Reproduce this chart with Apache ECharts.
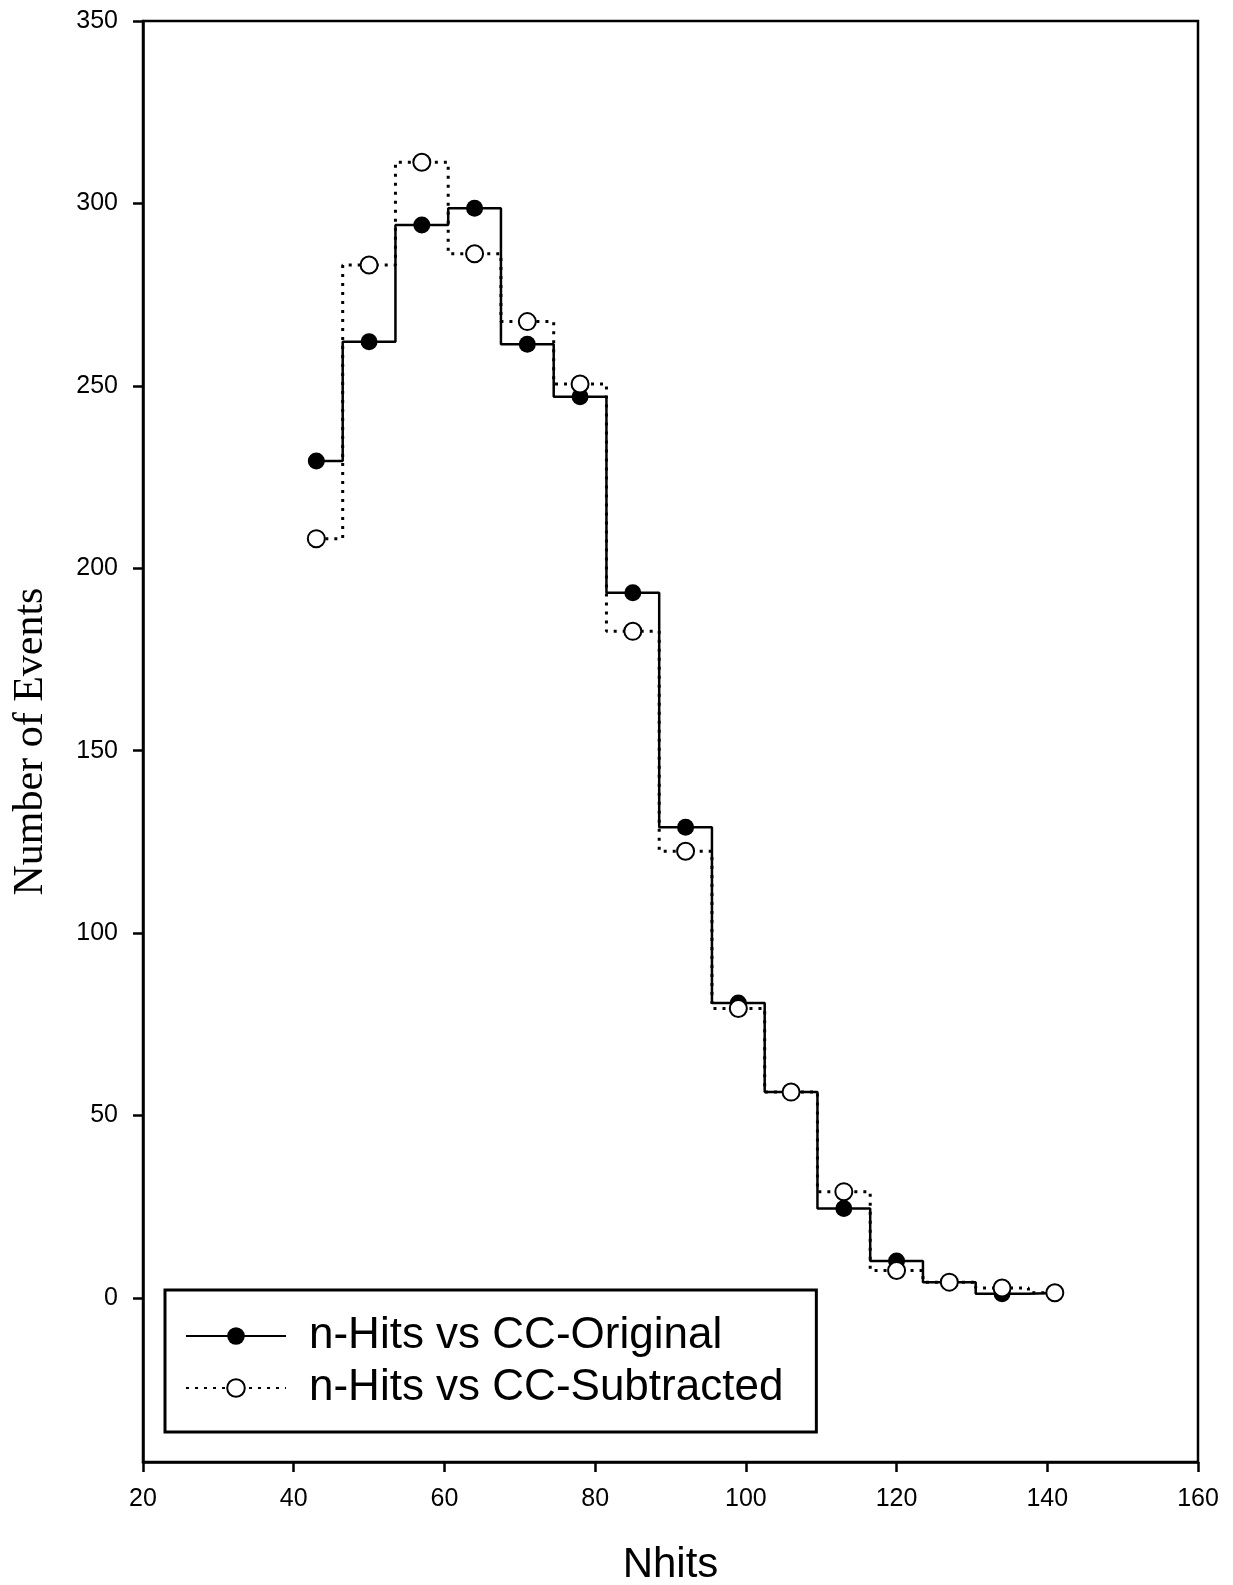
<!DOCTYPE html>
<html>
<head>
<meta charset="utf-8">
<script src="https://cdn.jsdelivr.net/npm/echarts@6/dist/echarts.min.js"></script>
<style>
html,body{margin:0;padding:0;background:#fff;}
#chart{width:1233px;height:1585px;}
</style>
</head>
<body>
<div id="chart"></div>
<script>
// Data
var nhits = [43, 50, 57, 64, 71, 78, 85, 92, 99, 106, 113, 120, 127, 134, 141];
var ccOriginal = [229.4, 262.1, 294.1, 298.7, 261.4, 247, 193.3, 129, 80.8, 56.4, 24.5, 10.1, 4.3, 1.1, 1.3];
var ccSubtracted = [208.1, 283.1, 311.3, 286.2, 267.6, 250.5, 182.7, 122.4, 79.3, 56.4, 29.1, 7.5, 4.3, 2.7, 1.4];
var yTicks = [0, 50, 100, 150, 200, 250, 300, 350];
var seriesNames = ['n-Hits vs CC-Original', 'n-Hits vs CC-Subtracted'];

function pairs(xs, ys) { return xs.map(function (x, i) { return [x, ys[i]]; }); }

var chart = echarts.init(document.getElementById('chart'), null, {renderer: 'canvas'});
var labelFont = {fontFamily: 'Liberation Sans', fontSize: 25, color: '#000'};
chart.setOption({
  animation: false,
  backgroundColor: '#fff',
  grid: {left: 143, right: 35, top: 21, bottom: 123, outerBoundsMode: 'none', containLabel: false,
         show: true, borderColor: '#000', borderWidth: 2.5, backgroundColor: 'transparent'},
  xAxis: {
    type: 'value', min: 20, max: 160, interval: 20,
    name: 'Nhits', nameLocation: 'middle', nameGap: 82,
    nameTextStyle: {fontFamily: 'Liberation Sans', fontSize: 42, color: '#000'},
    axisLine: {show: true, onZero: false, lineStyle: {color: '#000', width: 2.5}},
    axisTick: {show: true, length: 10, lineStyle: {color: '#000', width: 2.5}},
    axisLabel: Object.assign({margin: 25}, labelFont),
    splitLine: {show: false}
  },
  yAxis: {
    type: 'value', min: -45, max: 350,
    name: 'Number of Events', nameLocation: 'middle', nameGap: 91, nameRotate: 90,
    nameTextStyle: {fontFamily: 'Liberation Serif', fontSize: 42, color: '#000'},
    axisLine: {show: true, onZero: false, lineStyle: {color: '#000', width: 2.5}},
    axisTick: {show: true, length: 10, customValues: yTicks, lineStyle: {color: '#000', width: 2.5}},
    axisLabel: Object.assign({margin: 25, customValues: yTicks}, labelFont),
    splitLine: {show: false}
  },
  legend: {
    orient: 'vertical', left: 165, top: 1290,
    itemWidth: 100, itemHeight: 22, itemGap: 8,
    borderColor: '#000', borderWidth: 3, padding: [24, 33, 22, 20],
    backgroundColor: '#fff',
    textStyle: {fontFamily: 'Liberation Sans', fontSize: 44, lineHeight: 44, color: '#000', padding: [0, 0, 0, 18]},
    data: seriesNames
  },
  series: [
    {
      name: seriesNames[0], type: 'line', step: 'middle',
      data: pairs(nhits, ccOriginal),
      symbol: 'circle', symbolSize: 17, showSymbol: true,
      itemStyle: {color: '#000'},
      lineStyle: {color: '#000', width: 2.5}
    },
    {
      name: seriesNames[1], type: 'line', step: 'middle',
      data: pairs(nhits, ccSubtracted),
      symbol: 'emptyCircle', symbolSize: 17, showSymbol: true,
      itemStyle: {color: '#000', borderColor: '#000', borderWidth: 2},
      lineStyle: {color: '#000', width: 3, type: [3, 6]}
    }
  ]
});
</script>
</body>
</html>
